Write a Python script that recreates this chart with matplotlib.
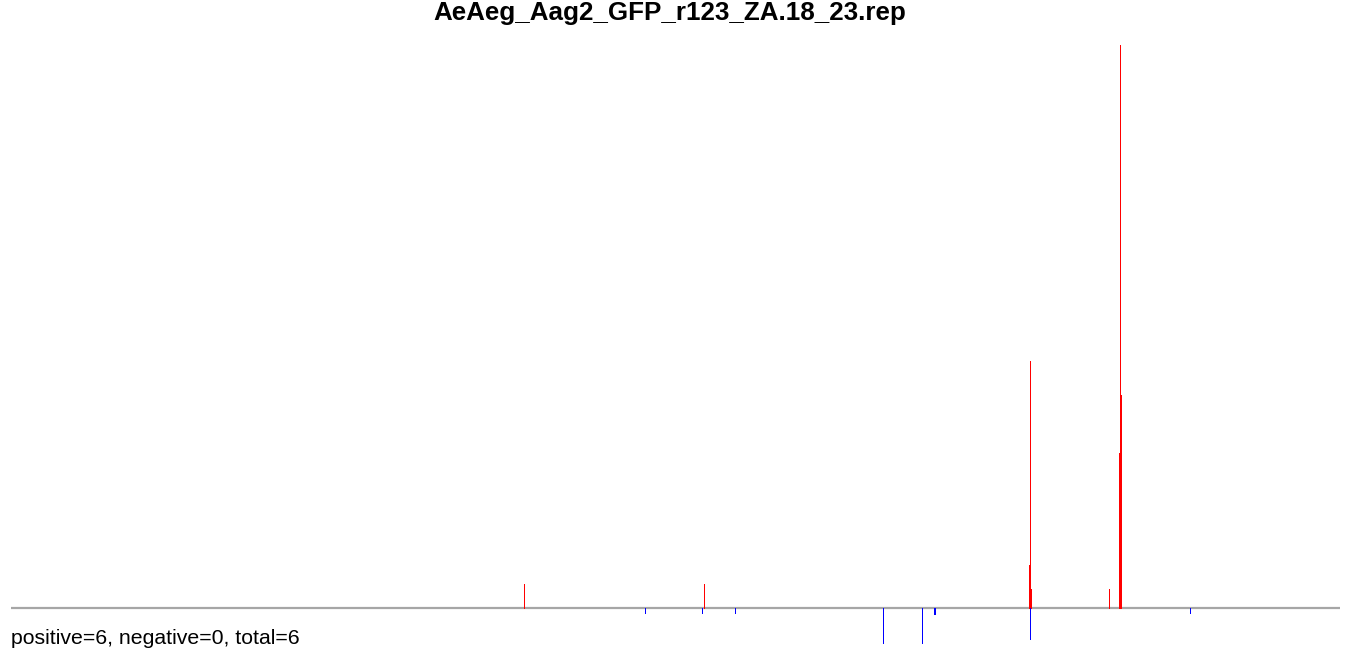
import matplotlib
matplotlib.use("Agg")
import matplotlib.pyplot as plt

# positions along the repeat and read counts
sense_pos = [513, 693, 1018, 1019, 1020, 1098, 1108, 1109, 1110]
sense_cnt = [24, 24, 43, 247, 19, 19, 155, 563, 213]
anti_pos = [634, 691, 724, 872, 911, 923, 924, 1019, 1179]
anti_cnt = [5, 5, 5, 35, 35, 6, 6, 31, 5]
rep_len = 1329

title = "AeAeg_Aag2_GFP_r123_ZA.18_23.rep"
summary = "positive=6, negative=0, total=6"

plt.rcParams['font.family'] = ['Liberation Sans', 'DejaVu Sans']

fig = plt.figure(figsize=(13.52, 6.56), dpi=100)
W, H = 1352.0, 656.0
ax = fig.add_axes([11 / W, (H - 645) / H, rep_len / W, 600 / H])
ax.set_xlim(0, rep_len)
ax.set_ylim(-37, 563)
ax.axis('off')

ax.axhline(0, color='#a6a6a6', lw=1.6, zorder=1)
ax.vlines(sense_pos, 0, sense_cnt, color='red', lw=0.5, zorder=2,
          antialiased=False)
ax.vlines(anti_pos, 0, [-c for c in anti_cnt], color='blue', lw=0.5,
          zorder=2, antialiased=False)

fig.text(670 / W, 1 - 20 / H, title, ha='center', va='baseline',
         fontsize=18.7, fontweight='bold')
fig.text(11 / W, 1 - 644 / H, summary, ha='left', va='baseline', fontsize=15.3)

fig.savefig("out.png", dpi=100)
